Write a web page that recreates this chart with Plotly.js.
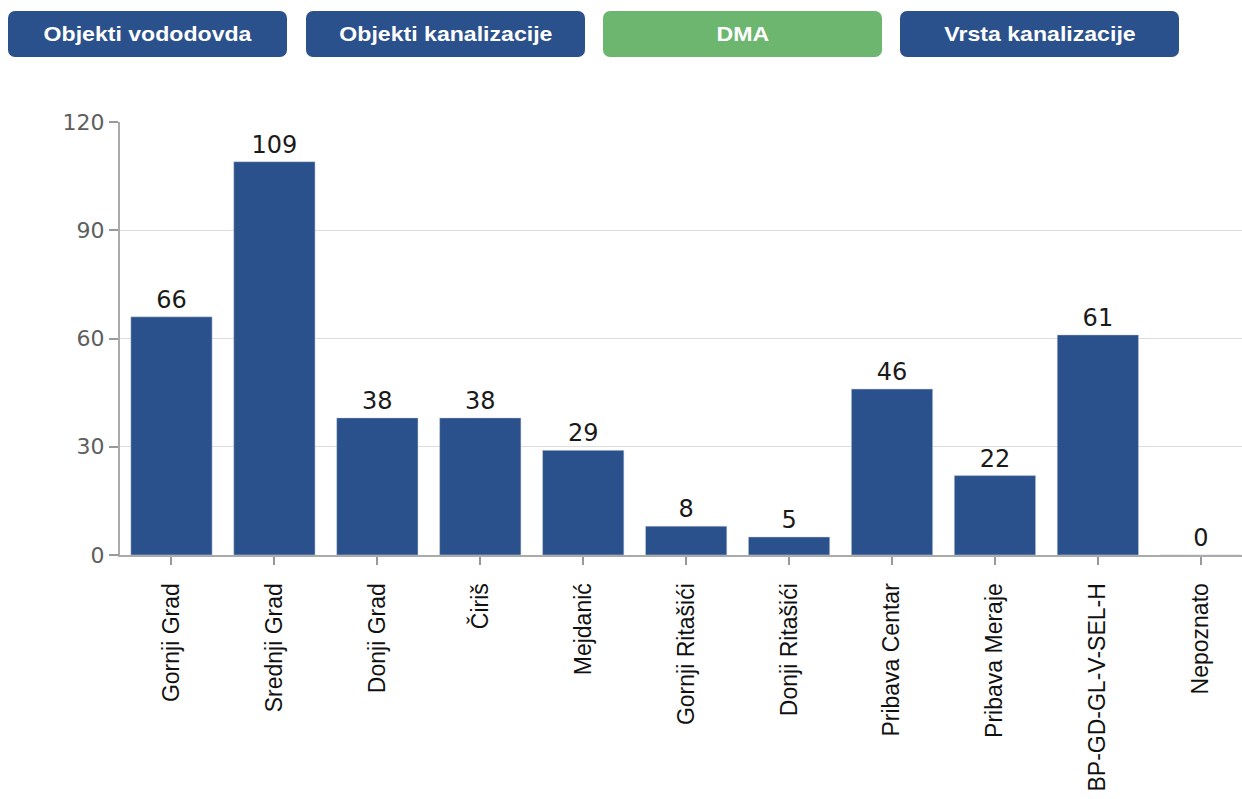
<!DOCTYPE html>
<html>
<head>
<meta charset="utf-8">
<script src="https://cdn.plot.ly/plotly-3.0.1.min.js"></script>
<style>
  html, body { margin: 0; padding: 0; background: #fff; width: 1242px; height: 799px; overflow: hidden; }
  #wrap { position: relative; width: 1242px; height: 799px; }
  #chart { position: absolute; left: 0; top: 0; width: 1242px; height: 799px; }
  .btn { position: absolute; top: 11px; height: 46px; border-radius: 7px; color: #fff;
         font-family: "Liberation Sans", Arial, sans-serif; font-weight: bold; font-size: 21px;
         display: flex; align-items: center; justify-content: center; z-index: 5; }
  .btn span { display: inline-block; transform: scaleX(1.1); }
  .blue { background: #2b518c; }
  .green { background: #6cb66f; }
</style>
</head>
<body>
<div id="wrap">
  <div id="chart"></div>
  <div id="buttons"></div>
</div>
<script>
const buttonLabels = ["Objekti vododovda", "Objekti kanalizacije", "DMA", "Vrsta kanalizacije"];
const activeButton = "DMA";
const categories = ["Gornji Grad", "Srednji Grad", "Donji Grad", "Čiriš", "Mejdanić", "Gornji Ritašići",
  "Donji Ritašići", "Pribava Centar", "Pribava Meraje", "BP-GD-GL-V-SEL-H", "Nepoznato"];
const values = [66, 109, 38, 38, 29, 8, 5, 46, 22, 61, 0];
const yTicks = [0, 30, 60, 90, 120];

const btnLefts = [8, 306, 603, 900];
const btnWidth = 279;
const bc = document.getElementById('buttons');
buttonLabels.forEach((t, i) => {
  const d = document.createElement('div');
  d.className = 'btn ' + (t === activeButton ? 'green' : 'blue');
  d.style.left = btnLefts[i] + 'px';
  d.style.width = btnWidth + 'px';
  const s = document.createElement('span');
  s.textContent = t;
  d.appendChild(s);
  bc.appendChild(d);
});

const trace = {
  type: 'bar',
  x: categories,
  y: values,
  text: values.map(String),
  textposition: 'outside',
  cliponaxis: false,
  textfont: { family: 'DejaVu Sans, sans-serif', size: 24, color: '#1a1a1a' },
  marker: { color: '#2b518c', line: { color: '#d0d6e2', width: 0.5 } },
  hoverinfo: 'none'
};

const layout = {
  width: 1242, height: 799,
  margin: { l: 120, r: 0, t: 122, b: 244 },
  paper_bgcolor: '#fff', plot_bgcolor: '#fff',
  bargap: 0.21,
  showlegend: false,
  xaxis: {
    type: 'category',
    range: [-0.5, 10.4],
    tickangle: -90,
    ticks: 'outside', ticklen: 8, tickcolor: '#999', tickwidth: 2,
    showline: true, linecolor: '#aaa', linewidth: 2,
    showgrid: false,
    tickfont: { family: 'Liberation Sans, Arial, sans-serif', size: 23, color: '#111' },
    ticklabelstandoff: 9
  },
  yaxis: {
    range: [0, 120],
    tickvals: yTicks,
    ticktext: yTicks.map(String),
    ticks: 'outside', ticklen: 9, tickcolor: '#999', tickwidth: 2,
    showline: true, linecolor: '#aaa', linewidth: 2,
    showgrid: true, gridcolor: '#dcdcdc', gridwidth: 1,
    zeroline: false,
    tickfont: { family: 'DejaVu Sans, sans-serif', size: 22, color: '#5e5e5e' }
  }
};

Plotly.newPlot('chart', [trace], layout, { displayModeBar: false, staticPlot: true });
</script>
</body>
</html>
